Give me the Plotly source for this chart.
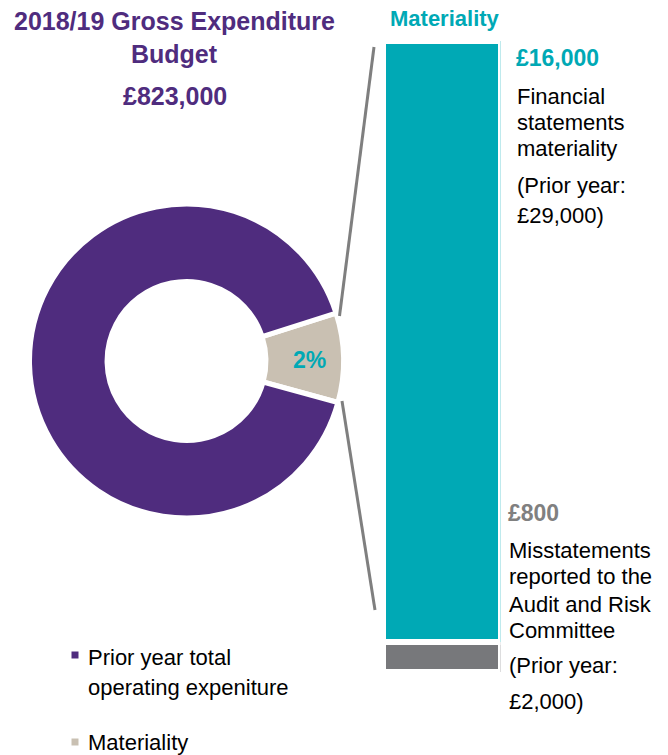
import plotly.graph_objects as go

W, H = 668, 755

# ---- data ----
pie_labels = ["Materiality", "Prior year total operating expeniture"]
pie_values = [9.2, 90.8]          # visual share of the ring as drawn
pie_share_label = "2%"
pie_colors = ["#C9C0B2", "#4F2C7E"]

bar_labels = ["Misstatements reported", "Financial statements materiality"]
bar_values = [800, 16000]
bar_colors = ["#77787B", "#00A9B5"]

PURPLE = "#4F2C7E"
TEAL = "#00A9B5"
GREY = "#808080"
FONT = "Liberation Sans, Arial, sans-serif"


def px(x):
    return x / W


def py(y):
    return 1 - y / H


fig = go.Figure()

# donut
cx, cy, r = 186.5, 361, 157
fig.add_trace(go.Pie(
    labels=pie_labels, values=pie_values,
    textinfo="none",
    marker=dict(colors=pie_colors, line=dict(color="white", width=5)),
    hole=0.506, sort=False, direction="clockwise", rotation=72.2,
    domain=dict(x=[px(cx - r), px(cx + r)], y=[py(cy + r), py(cy - r)]),
    showlegend=False, hoverinfo="label+value",
))

# stacked bar
for lab, val, col in zip(bar_labels, bar_values, bar_colors):
    fig.add_trace(go.Bar(
        x=["Materiality"], y=[val], name=lab, width=1,
        marker=dict(color=col, line=dict(color="white", width=6)),
        showlegend=False,
    ))

fig.update_layout(
    width=W, height=H, margin=dict(l=0, r=0, t=0, b=0),
    paper_bgcolor="white", plot_bgcolor="white",
    barmode="stack", bargap=0,
    xaxis=dict(domain=[px(382.5), px(500.5)], range=[-0.5, 0.5], visible=False),
    yaxis=dict(domain=[py(672), py(41)], range=[0, sum(bar_values)], visible=False),
    font=dict(family=FONT),
)

annotations = []


def txt(x, y, s, size=22, color="black", bold=False, anchor="left"):
    annotations.append(dict(
        x=px(x), y=py(y), xref="paper", yref="paper", text=s, showarrow=False,
        xanchor=anchor, yanchor="middle",
        font=dict(family=FONT, size=size, color=color, weight="bold" if bold else "normal"),
    ))


# slice label
txt(309, 360, pie_share_label, 23, TEAL, True, "center")

# title on the left
txt(174, 21, "2018/19 Gross Expenditure", 25, PURPLE, True, "center")
txt(174, 54, "Budget", 25, PURPLE, True, "center")
txt(175, 96, "£823,000", 25, PURPLE, True, "center")

# right side texts
txt(445, 18, "Materiality", 22, TEAL, True, "center")
txt(514, 58, "£16,000", 23, TEAL, True)
txt(515, 96, "Financial")
txt(515, 123, "statements")
txt(515, 148, "materiality")
txt(515, 185, "(Prior year:")
txt(515, 215, "£29,000)")

txt(506, 513, "£800", 23, GREY, True)
txt(507, 550, "Misstatements")
txt(507, 576, "reported to the")
txt(507, 604, "Audit and Risk")
txt(507, 630, "Committee")
txt(507, 665, "(Prior year:")
txt(507, 701, "£2,000)")

# legend texts
txt(86, 657, "Prior year total", 22)
txt(86, 687, "operating expeniture", 22)
txt(86, 742, "Materiality", 22)

fig.update_layout(annotations=annotations)

shapes = [
    # connector lines
    dict(type="line", xref="paper", yref="paper", x0=px(339.5), y0=py(316), x1=px(374), y1=py(47),
         line=dict(color="#7F7F7F", width=3)),
    dict(type="line", xref="paper", yref="paper", x0=px(342), y0=py(401), x1=px(375), y1=py(610),
         line=dict(color="#7F7F7F", width=3)),
    # legend swatches
    dict(type="rect", xref="paper", yref="paper", x0=px(71.5), x1=px(78.5), y0=py(658.5), y1=py(651.5),
         fillcolor=pie_colors[1], line=dict(width=0)),
    dict(type="rect", xref="paper", yref="paper", x0=px(71.5), x1=px(78.5), y0=py(745.5), y1=py(738.5),
         fillcolor=pie_colors[0], line=dict(width=0)),
]
fig.update_layout(shapes=shapes)

fig.write_html("out.html", config={"displayModeBar": False},
               post_script="document.body.style.margin='0';document.body.style.padding='0';")
